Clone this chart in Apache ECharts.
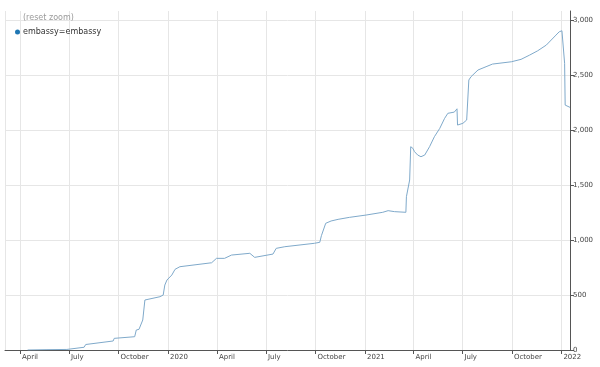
<!DOCTYPE html>
<html>
<head>
<meta charset="utf-8">
<script src="https://cdn.jsdelivr.net/npm/echarts@6/dist/echarts.min.js"></script>
<style>
html,body{margin:0;padding:0;background:#fff;}
#chart{width:600px;height:367px;}
</style>
</head>
<body>
<div id="chart"></div>
<script>
// ---- data ----
const seriesName = 'embassy=embassy';
const dates = [
 '2019-04-15','2019-05-21','2019-06-27','2019-07-29','2019-08-01','2019-09-21','2019-09-23',
 '2019-10-31','2019-11-03','2019-11-08','2019-11-15','2019-11-19','2019-11-22','2019-12-17',
 '2019-12-23','2019-12-26','2019-12-30','2020-01-08','2020-01-14','2020-01-23','2020-03-22',
 '2020-03-31','2020-04-15','2020-04-28','2020-06-01','2020-06-10','2020-07-14','2020-07-20',
 '2020-08-05','2020-09-29','2020-10-09','2020-10-12','2020-10-20','2020-10-30','2020-11-12',
 '2020-12-03','2021-01-03','2021-02-03','2021-02-13','2021-02-25','2021-02-28','2021-03-18',
 '2021-03-19','2021-03-25','2021-03-27','2021-03-29','2021-03-31','2021-04-03','2021-04-06',
 '2021-04-09','2021-04-15','2021-04-22','2021-05-01','2021-05-10','2021-05-20','2021-05-29',
 '2021-06-04','2021-06-16','2021-06-21','2021-06-22','2021-07-02','2021-07-09','2021-07-13',
 '2021-07-17','2021-07-30','2021-08-14','2021-08-26','2021-09-30','2021-10-18','2021-11-03',
 '2021-11-18','2021-12-04','2021-12-22','2021-12-28','2022-01-02','2022-01-07','2022-01-08',
 '2022-01-17'
];
const values = [
 0,3,5,25,50,82,106,
 121,182,188,273,455,470,485,
 500,591,637,682,734,758,794,
 834,834,864,880,843,873,925,
 940,971,980,1040,1153,1174,1189,
 1207,1228,1253,1268,1259,1250,1253,
 1395,1547,1850,1865,1835,1805,1820,
 1774,1759,1774,1850,1941,2017,2108,
 2154,2165,2195,2047,2063,2093,2457,
 2487,2548,2578,2602,2623,2645,2684,
 2723,2775,2866,2896,2905,2609,2229,
 2208
];
const monthNames = ['January','February','March','April','May','June','July','August','September','October','November','December'];
const yTicks = [0,500,1000,1500,2000,2500,3000];

const xMin = '2019-03-04';
const xMax = '2022-01-17';
const yMax = 3085;

const chart = echarts.init(document.getElementById('chart'), null, {renderer:'canvas'});
const DAY = 24*3600*1000;
chart.setOption({
  animation:false,
  backgroundColor:'#fff',
  title:{
    text:'(reset zoom)', left:18, top:9,
    textStyle:{fontFamily:'DejaVu Sans', fontSize:8, fontWeight:'normal', color:'#9a9a9a'}
  },
  legend:{
    left:10, top:23, icon:'circle', itemWidth:5, itemHeight:5, itemGap:4,
    textStyle:{fontFamily:'DejaVu Sans', fontSize:8, color:'#333', padding:[0,0,0,-2]},
    data:[{name:seriesName, itemStyle:{color:'#1f77b4'}}]
  },
  grid:{left:5, right:30, top:11, bottom:17, containLabel:false},
  xAxis:{
    type:'time', min:xMin, max:xMax,
    splitNumber:11, minInterval:80*DAY, maxInterval:100*DAY,
    axisLine:{show:true, lineStyle:{color:'#555', width:1}},
    axisTick:{show:true, length:4, lineStyle:{color:'#555'}},
    splitLine:{show:true, lineStyle:{color:'#e6e6e6', width:1}},
    axisLabel:{
      fontFamily:'DejaVu Sans', fontSize:7, color:'#444', align:'left', margin:4,
      padding:[0,0,0,2], showMinLabel:false, showMaxLabel:false, hideOverlap:false,
      formatter:function(v){
        const d = new Date(v);
        const m = d.getMonth();
        return m===0 ? String(d.getFullYear()) : monthNames[m];
      }
    }
  },
  yAxis:{
    type:'value', position:'right', min:0, max:yMax, interval:500,
    axisLine:{show:true, lineStyle:{color:'#555', width:1}},
    axisTick:{show:true, length:4, lineStyle:{color:'#555'}},
    splitLine:{show:true, showMaxLine:false, lineStyle:{color:'#e6e6e6', width:1}},
    axisLabel:{
      fontFamily:'DejaVu Sans', fontSize:7, color:'#444', margin:3, showMaxLabel:false,
      formatter:function(v){ return yTicks.indexOf(v)>=0 ? v.toLocaleString('en-US') : ''; }
    }
  },
  series:[{
    name:seriesName, type:'line', showSymbol:false, symbol:'circle',
    itemStyle:{color:'#1f77b4'},
    lineStyle:{color:'#7fa9ca', width:1},
    data: dates.map((d,i)=>[d, values[i]])
  }]
});
</script>
</body>
</html>
